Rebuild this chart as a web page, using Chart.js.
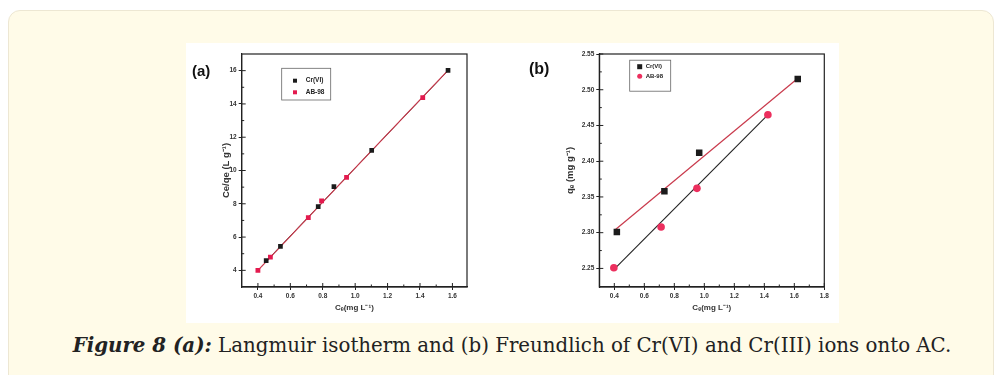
<!DOCTYPE html>
<html>
<head>
<meta charset="utf-8">
<script src="https://cdn.jsdelivr.net/npm/chart.js@4.4.1/dist/chart.umd.min.js"></script>
<style>
body { margin: 0; width: 1002px; height: 375px; overflow: hidden; position: relative; background: #fff; font-family: "Liberation Sans", Arial, sans-serif; }
.box { position: absolute; left: 8px; top: 10px; width: 984px; height: 420px; background: #fffbe8; border: 1.5px solid #ede7d3; border-radius: 12px; }
.figure { position: absolute; left: 186px; top: 43px; width: 653px; height: 280px; background: #fff; }
#chartA { position: absolute; left: 0; top: 0; }
#chartB { position: absolute; left: 314px; top: 0; }
.panel { position: absolute; font-weight: bold; color: #111; }
.caption { position: absolute; left: 22px; width: 980px; top: 333px; text-align: center; font-family: "DejaVu Serif", serif; font-size: 19.8px; color: #222; white-space: nowrap; }
</style>
</head>
<body>
<div class="box"></div>
<div class="figure">
  <canvas id="chartA" width="300" height="280"></canvas>
  <canvas id="chartB" width="339" height="280"></canvas>
  <div class="panel" style="left:6px; top:19px; font-size:15px;">(a)</div>
  <div class="panel" style="left:343px; top:17px; font-size:16px;">(b)</div>
</div>
<div class="caption"><b><i>Figure 8 (a):</i></b> Langmuir isotherm and (b) Freundlich of Cr(VI) and Cr(III) ions onto AC.</div>

<script>
const seriesNames = ['Cr(VI)', 'AB-98'];

// (a) Langmuir
const langCrX = [0.451, 0.539, 0.772, 0.869, 1.102, 1.573];
const langCrY = [4.58, 5.44, 7.83, 9.03, 11.21, 16.02];
const langAbX = [0.400, 0.477, 0.711, 0.793, 0.947, 1.417];
const langAbY = [4.00, 4.80, 7.17, 8.17, 9.59, 14.38];
const langCrFitX = [0.451, 1.573];
const langCrFitY = [4.55, 16.0];
const langAbFitX = [0.40, 1.577];
const langAbFitY = [4.00, 16.06];
const langXTicks = [0.4, 0.6, 0.8, 1.0, 1.2, 1.4, 1.6];
const langYTicks = [4, 6, 8, 10, 12, 14, 16];

// (b) Freundlich
const freCrX = [0.417, 0.734, 0.966, 1.623];
const freCrY = [2.301, 2.358, 2.412, 2.515];
const freAbX = [0.397, 0.712, 0.951, 1.424];
const freAbY = [2.251, 2.308, 2.362, 2.465];
const freCrFitX = [0.40, 1.63];
const freCrFitY = [2.303, 2.517];
const freAbFitX = [0.40, 1.41];
const freAbFitY = [2.249, 2.462];
const freXTicks = [0.4, 0.6, 0.8, 1.0, 1.2, 1.4, 1.6, 1.8];
const freYTicks = [2.25, 2.30, 2.35, 2.40, 2.45, 2.50, 2.55];

const BLACK = '#1b1b1b';
const RED = '#e31a4e';
const PINK = '#ec2f5e';
const RED_LINE = '#c93a4c';

function pts(xs, ys) {
    return xs.map((x, i) => ({ x: x, y: ys[i] }));
}

// frame + inward tick marks (Origin style)
const framePlugin = {
    id: 'frame',
    afterDraw(chart, args, opts) {
        const { ctx, chartArea: a, scales } = chart;
        ctx.save();
        ctx.strokeStyle = '#222';
        ctx.lineWidth = 1.2;
        ctx.strokeRect(a.left, a.top, a.right - a.left, a.bottom - a.top);
        ctx.lineWidth = 1;
        ctx.beginPath();
        const sx = scales.x, sy = scales.y;
        const xv = sx.ticks.map(t => t.value);
        const yv = sy.ticks.map(t => t.value);
        xv.forEach((v, i) => {
            const px = sx.getPixelForValue(v);
            ctx.moveTo(px, a.bottom); ctx.lineTo(px, a.bottom - 4);
            if (i < xv.length - 1) {
                const m = sx.getPixelForValue((v + xv[i + 1]) / 2);
                ctx.moveTo(m, a.bottom); ctx.lineTo(m, a.bottom - 2.5);
            }
        });
        yv.forEach((v, i) => {
            const py = sy.getPixelForValue(v);
            ctx.moveTo(a.left, py); ctx.lineTo(a.left + 4, py);
            if (i < yv.length - 1) {
                const m = sy.getPixelForValue((v + yv[i + 1]) / 2);
                ctx.moveTo(a.left, m); ctx.lineTo(a.left + 2.5, m);
            }
        });
        ctx.stroke();
        ctx.restore();
    }
};

// boxed legend placed inside the plot
const boxLegend = {
    id: 'boxLegend',
    afterDraw(chart, args, o) {
        const { ctx, chartArea: a } = chart;
        const bx = a.left + o.dx, by = a.top + o.dy;
        ctx.save();
        ctx.strokeStyle = '#666';
        ctx.lineWidth = 0.8;
        ctx.strokeRect(bx, by, o.w, o.h);
        ctx.font = o.font;
        ctx.textBaseline = 'middle';
        chart.data.datasets.filter(d => !d.showLine).forEach((d, i) => {
            const cx = bx + o.markX, cy = by + o.rows[i];
            const r = o.size;
            ctx.fillStyle = d.backgroundColor;
            ctx.beginPath();
            if (d.pointStyle === 'circle') ctx.arc(cx, cy, r, 0, Math.PI * 2);
            else ctx.rect(cx - r, cy - r, r * 2, r * 2);
            ctx.fill();
            ctx.fillStyle = '#222';
            ctx.fillText(d.label, bx + o.textX, cy);
        });
        ctx.restore();
    }
};

function tickSetter(values) {
    return scale => { scale.ticks = values.map(v => ({ value: v })); };
}

const tickFont = { family: 'Liberation Sans', size: 6.5, weight: 'bold' };
const titleFont = { family: 'Liberation Sans', size: 8, weight: 'bold' };

function axisX(min, max, ticks, title) {
    return {
        type: 'linear', min: min, max: max,
        afterBuildTicks: tickSetter(ticks),
        afterFit: s => { s.height = 36; },
        grid: { display: true, drawOnChartArea: false, tickLength: 3, color: '#222' },
        border: { display: true, color: '#222', width: 1.2 },
        ticks: { font: tickFont, color: '#333', padding: 2, maxRotation: 0, callback: v => v.toFixed(1) },
        title: { display: true, text: title, font: titleFont, color: '#333', padding: { top: 0, bottom: 10 } }
    };
}

function axisY(min, max, ticks, title, width, digits) {
    return {
        type: 'linear', min: min, max: max,
        afterBuildTicks: tickSetter(ticks),
        afterFit: s => { s.width = width; },
        grid: { display: true, drawOnChartArea: false, tickLength: 3, color: '#222' },
        border: { display: true, color: '#222', width: 1.2 },
        ticks: { font: tickFont, color: '#333', padding: 2, callback: v => v.toFixed(digits) },
        title: { display: true, text: title, font: { family: 'Liberation Sans', size: 9.5, weight: 'bold' }, color: '#333', padding: { top: 0, bottom: 0 } }
    };
}

Chart.defaults.animation = false;

// (a) Langmuir isotherm
new Chart(document.getElementById('chartA'), {
    type: 'scatter',
    data: {
        datasets: [
            { label: seriesNames[0], data: pts(langCrX, langCrY), pointStyle: 'rect', pointRadius: 3.3, backgroundColor: BLACK, borderWidth: 0 },
            { label: seriesNames[1], data: pts(langAbX, langAbY), pointStyle: 'rect', pointRadius: 3.4, backgroundColor: RED, borderWidth: 0 },
            { label: 'fit1', data: pts(langAbFitX, langAbFitY), showLine: true, pointRadius: 0, borderColor: RED_LINE, borderWidth: 1.2 },
            { label: 'fit2', data: pts(langCrFitX, langCrFitY), showLine: true, pointRadius: 0, borderColor: '#333', borderWidth: 1 }
        ]
    },
    options: {
        responsive: false,
        devicePixelRatio: 1,
        layout: { padding: { left: 35, top: 11, right: 19, bottom: 0 } },
        plugins: {
            legend: { display: false },
            tooltip: { enabled: false },
            boxLegend: { dx: 40, dy: 14.3, w: 49, h: 31.7, markX: 13.3, textX: 24, rows: [12.4, 24], size: 2, font: 'bold 6.5px "Liberation Sans"' }
        },
        scales: {
            x: axisX(0.3, 1.69, langXTicks, 'C\u2091(mg L\u207B\u00B9)'),
            y: axisY(3, 17, langYTicks, 'Ce/qe (L g\u207B\u00B9)', 20.7, 0)
        }
    },
    plugins: [framePlugin, boxLegend]
});

// (b) Freundlich isotherm
new Chart(document.getElementById('chartB'), {
    type: 'scatter',
    data: {
        datasets: [
            { label: seriesNames[0], data: pts(freCrX, freCrY), pointStyle: 'rect', pointRadius: 4.6, backgroundColor: BLACK, borderWidth: 0 },
            { label: seriesNames[1], data: pts(freAbX, freAbY), pointStyle: 'circle', pointRadius: 3.8, backgroundColor: PINK, borderWidth: 0 },
            { label: 'fit1', data: pts(freCrFitX, freCrFitY), showLine: true, pointRadius: 0, borderColor: RED_LINE, borderWidth: 1.2 },
            { label: 'fit2', data: pts(freAbFitX, freAbFitY), showLine: true, pointRadius: 0, borderColor: '#222', borderWidth: 1.1 }
        ]
    },
    options: {
        responsive: false,
        devicePixelRatio: 1,
        layout: { padding: { left: 65, top: 11, right: 14.7, bottom: 0 } },
        plugins: {
            legend: { display: false },
            tooltip: { enabled: false },
            boxLegend: { dx: 30.4, dy: 6.2, w: 41, h: 31, markX: 10, textX: 16, rows: [6.5, 16], size: 2.5, font: 'bold 6px "Liberation Sans"' }
        },
        scales: {
            x: axisX(0.3, 1.8, freXTicks, 'C\u2091(mg L\u207B\u00B9)'),
            y: axisY(2.224, 2.55, freYTicks, 'q\u2091 (mg g\u207B\u00B9)', 34.3, 2)
        }
    },
    plugins: [framePlugin, boxLegend]
});
</script>
</body>
</html>
